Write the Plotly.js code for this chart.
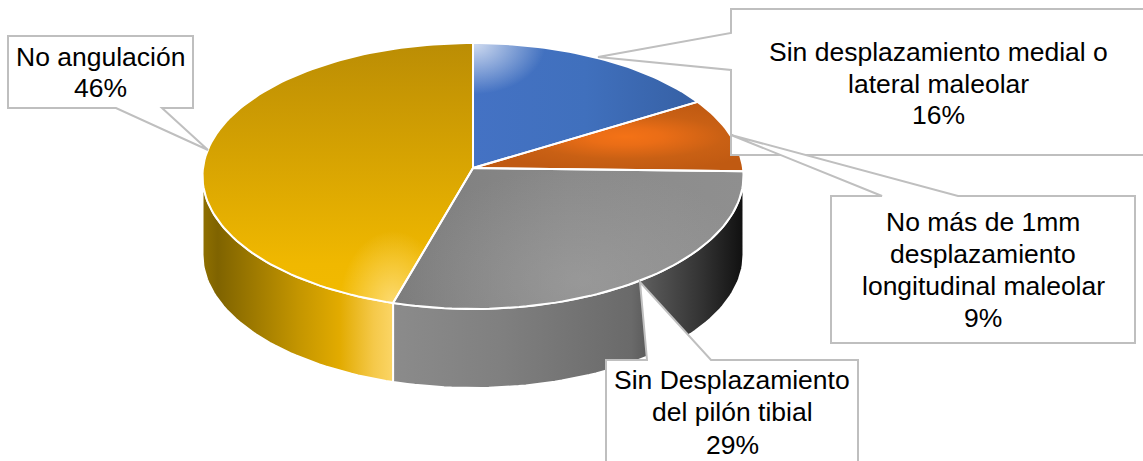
<!DOCTYPE html>
<html><head><meta charset="utf-8">
<script src="https://cdn.plot.ly/plotly-3.0.1.min.js"></script>
<style>html,body{margin:0;padding:0;background:#fff}#c{width:1143px;height:461px}</style>
</head><body><div id="c"></div>
<script>
const categories = ["Sin desplazamiento medial o<br>lateral maleolar","No más de 1mm<br>desplazamiento<br>longitudinal maleolar","Sin Desplazamiento<br>del pilón tibial","No angulación"];
const values = [16.4, 9.0, 29.1, 45.5];

// projection of the tilted disc
const cx=473, cy=168, A=270, B=132.5, K=0.06, DEPTH=79;
function P(deg,r,d){const t=deg*Math.PI/180,X=r*Math.sin(t),Y=r*Math.cos(t),w=1+K*Y;
  return [cx+A*X/w, cy-B*Y/w+(d||0)];}
function arc(a0,a1,d){const n=Math.max(2,Math.ceil(Math.abs(a1-a0)/1.5)),o=[];
  for(let i=0;i<=n;i++)o.push(P(a0+(a1-a0)*i/n,1,d));return o;}
const total=values.reduce((s,v)=>s+v,0);
let acc=0; const edges=[0];
values.forEach(v=>{acc+=v;edges.push(acc/total*360);});

// extra = zero-area points, they only stretch the box a radial gradient is fitted to
function poly(pts,line,grad,name,extra){
  const x=pts.map(p=>p[0]),y=pts.map(p=>p[1]);
  x.push(x[0]);y.push(y[0]);
  (extra||[]).forEach(e=>{x.push(null,e[0],e[0]);y.push(null,e[1],e[1]);});
  return {type:'scatter',mode:'lines',x:x,y:y,fill:'toself',fillgradient:grad,name:name,
    line:line,hoverinfo:'skip',showlegend:false};
}
const wl={color:'#fff',width:2}, nl={color:'rgba(0,0,0,0)',width:0};
const hg=(stops)=>({type:'horizontal',colorscale:stops});
const vg=(stops)=>({type:'vertical',colorscale:stops});
const rg=(stops)=>({type:'radial',colorscale:stops});

const faces=values.map((v,i)=>[[cx,cy]].concat(arc(edges[i],edges[i+1],0)));

// side walls
const goldWall=arc(edges[3],266.6,0).concat(arc(266.6,edges[3],DEPTH));
const grayWall=arc(edges[3],93.4,0).concat(arc(93.4,edges[3],DEPTH));
const traces=[
 poly(grayWall,wl,hg([[0,'#8b8b8b'],[0.3,'#808080'],[0.68,'#6a6a6a'],[0.74,'#565656'],[0.88,'#333333'],[1,'#101010']]),'wall '+categories[2]),
 poly(goldWall,wl,hg([[0,'#8f7000'],[0.08,'#7f6300'],[0.5,'#c39500'],[0.72,'#e2ab00'],[0.9,'#f5c94a'],[1,'#fbd566']]),'wall '+categories[3])
];
// top faces
const corner=P(edges[3],1,0);
const topC=P(0,1,0);
traces.push(poly(faces[0],nl,hg([[0,'#4472c4'],[0.5,'#4070bd'],[1,'#3660a4']]),categories[0]));
traces.push(poly(faces[1],nl,rg([[0,'#f47216'],[0.25,'#ea6d16'],[0.65,'#c96014'],[1,'#c05a12']]),categories[1],[[777,139]]));
traces.push(poly(faces[2],nl,hg([[0,'#7c7c7c'],[0.5,'#8a8a8a'],[1,'#8f8f8f']]),categories[2]));
traces.push(poly(faces[3],nl,vg([[0,'#f2ba00'],[0.15,'#f0b800'],[1,'#bb8d04']]),categories[3]));
// soft highlights, centred by stretching the gradient box
traces.push(poly(faces[0],nl,rg([[0,'rgba(255,255,255,0.75)'],[0.32,'rgba(255,255,255,0)'],[1,'rgba(255,255,255,0)']]),'highlight',
  [[topC[0]-222,topC[1]-160],[topC[0]+222,topC[1]+160]]));
traces.push(poly(faces[3],nl,rg([[0,'rgba(255,226,140,0.8)'],[0.28,'rgba(255,226,140,0)'],[1,'rgba(255,226,140,0)']]),'highlight',
  [[corner[0]+190,corner[1]+262]]));
traces.push(poly(faces[2],nl,rg([[0,'rgba(172,172,172,0.4)'],[1,'rgba(172,172,172,0)']]),'highlight',
  [[767,392]]));
// white separators
faces.forEach((f,i)=>{
  const x=f.map(p=>p[0]),y=f.map(p=>p[1]);x.push(x[0]);y.push(y[0]);
  traces.push({type:'scatter',mode:'lines',x:x,y:y,line:wl,hoverinfo:'skip',showlegend:false,name:'edge '+i});
});

const stroke={color:'#bfbfbf',width:2};
const box=(path)=>({type:'path',path:path,line:stroke,fillcolor:'#ffffff',layer:'above',xref:'x',yref:'y'});
const shapes=[
 box('M731,9 L1160,9 L1160,155 L731,155 L731,70 L598,57 L731,33 Z'),
 box('M831,196 L882,196 L731,135 L958,196 L1135,196 L1135,343 L831,343 Z'),
 box('M606,360 L647,360 L640,282 L711,360 L858,360 L858,480 L606,480 Z'),
 box('M8,36 L193,36 L193,108 L162,108 L208,150 L116,108 L8,108 Z')
];
const FS=26.5;
function label(i,x,ys){
  const lines=categories[i].split('<br>').concat([Math.round(values[i])+'%']);
  return lines.map((t,k)=>({text:t,x:x,y:ys[k],xref:'x',yref:'y',showarrow:false,xanchor:'center',yanchor:'middle',
    font:{family:'Liberation Sans, Arial, sans-serif',size:FS,color:'#000'}}));
}
const annotations=[].concat(label(0,938,[52,84,115]),label(1,983,[222,254,286,318]),label(2,732,[380,412,445]),label(3,100,[57,88]));

Plotly.newPlot('c',traces,{
  width:1143,height:461,margin:{l:0,r:0,t:0,b:0},paper_bgcolor:'#fff',plot_bgcolor:'#fff',showlegend:false,
  xaxis:{range:[0,1143],visible:false,fixedrange:true},
  yaxis:{range:[461,0],visible:false,fixedrange:true},
  shapes:shapes,annotations:annotations
},{staticPlot:true,displayModeBar:false});
</script></body></html>
